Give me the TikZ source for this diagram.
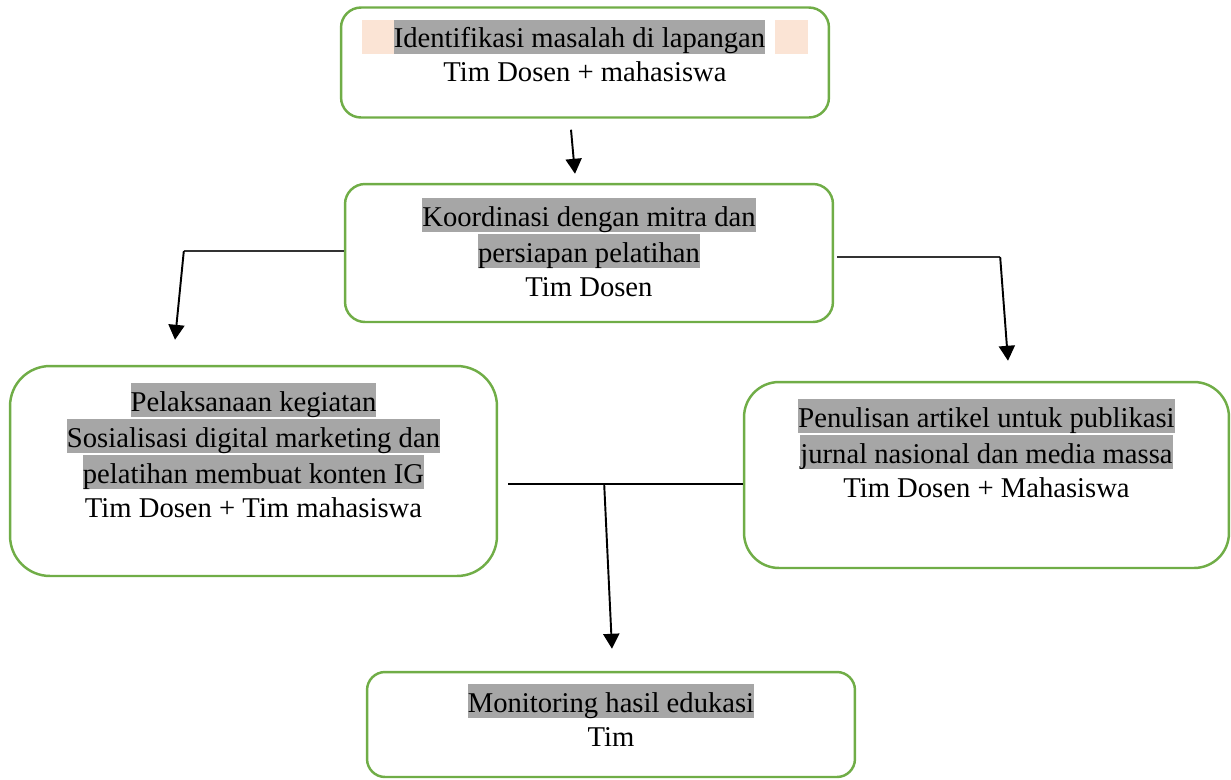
\documentclass[tikz,border=0pt]{standalone}
\usepackage{fontspec}
\setmainfont{Liberation Serif}
\usepackage{tikz}
\usetikzlibrary{arrows.meta,calc,positioning}

\definecolor{verde}{HTML}{70AD47}
\definecolor{gris}{HTML}{A6A6A6}
\definecolor{melocoton}{HTML}{FBE4D5}

\newcommand{\resaltar}[1]{{\setlength{\fboxsep}{0pt}\colorbox{gris}{\rule[-3.4pt]{0pt}{19.4pt}#1}}}
\newcommand{\relleno}[1]{{\setlength{\fboxsep}{0pt}\colorbox{melocoton}{\rule[-3.4pt]{0pt}{19.4pt}\hspace{#1}}}}

\begin{document}
\begin{tikzpicture}[x=0.02cm,y=-0.02cm,
	caja/.style={draw=verde, line width=1.4pt, rounded corners=#1, inner sep=0pt},
	caja/.default=0.4cm,
	texto/.style={inner sep=0pt, align=center, font=\fontsize{16.3pt}{19.4pt}\selectfont},
	linea/.style={draw=black!80, line width=0.6pt},
	flecha/.style={line width=1.1pt, -{Triangle[width=0.32cm,length=0.3cm]}}]
				\useasboundingbox (0,0) rectangle (1231,779);

				% Dibujar las cajas
				\node[caja, minimum width=9.76cm, minimum height=2.2cm] (ident) at (585,62.5) {};
				\node[caja, minimum width=9.76cm, minimum height=2.76cm] (koord) at (589,253) {};
				\node[caja=0.8cm, minimum width=9.74cm, minimum height=4.2cm] (pelaks) at (253.5,471) {};
				\node[caja=0.7cm, minimum width=9.7cm, minimum height=3.72cm] (penul) at (986.5,475) {};
				\node[caja=0.36cm, minimum width=9.76cm, minimum height=2.1cm] (monit) at (611,724.5) {};

				% Textos de las cajas
				\node[texto, below=0.26cm of ident.north] (ident-t) {\relleno{0.64cm}\resaltar{Identifikasi masalah di lapangan}\hspace{0.2cm}\relleno{0.66cm}\\ Tim Dosen + mahasiswa};
				\node[texto, below=0.3cm of koord.north] (koord-t) {\resaltar{Koordinasi dengan mitra dan}\\ \resaltar{persiapan pelatihan}\\ Tim Dosen};
				\node[texto, below=0.36cm of pelaks.north] (pelaks-t) {\resaltar{Pelaksanaan kegiatan}\\ \resaltar{Sosialisasi digital marketing dan}\\ \resaltar{pelatihan membuat konten IG}\\ Tim Dosen + Tim mahasiswa};
				\node[texto, below=0.36cm of penul.north] (penul-t) {\resaltar{Penulisan artikel untuk publikasi}\\ \resaltar{jurnal nasional dan media massa}\\ Tim Dosen + Mahasiswa};
				\node[texto, below=0.26cm of monit.north] (monit-t) {\resaltar{Monitoring hasil edukasi}\\ Tim};

				% Puntos de las flechas
				\coordinate (a1) at ($(ident.south)+(-14,11)$);
				\coordinate (a2) at ($(koord.north)+(-14,-9)$);
				\coordinate (b1) at ($(koord.west)+(-160,-2)$);
				\coordinate (b2) at ($(pelaks.north)+(-78.5,-25)$);
				\coordinate (c1) at ($(koord.east)+(166,4)$);
				\coordinate (c2) at ($(penul.north)+(21.5,-20)$);
				\coordinate (d0) at ($(pelaks.east)+(10,13)$);
				\coordinate (d1) at ($(pelaks.east)+(106,13)$);
				\coordinate (d2) at ($(monit.north)+(1,-22)$);

				% Dibujar las flechas
				\draw[flecha] (a1) -- (a2);
				\draw[linea] ($(koord.west)+(0,-2)$) -- (b1);
				\draw[flecha] (b1) -- (b2);
				\draw[linea] ($(koord.east)+(3,4)$) -- (c1);
				\draw[flecha] (c1) -- (c2);
				\draw[line width=1.1pt] (d0) -- ($(penul.west)+(0,9)$);
				\draw[flecha] (d1) -- (d2);

			\end{tikzpicture}
\end{document}
